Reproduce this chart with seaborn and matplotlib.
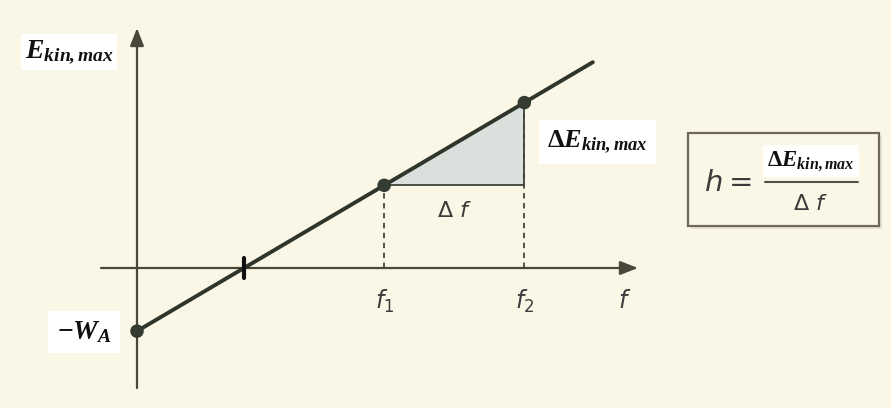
import matplotlib
matplotlib.use("Agg")
import matplotlib.pyplot as plt
import seaborn as sns
import numpy as np
import pandas as pd
from matplotlib.patches import Polygon, Rectangle

sns.set_theme(style="white")
plt.rcParams["font.family"] = ["Liberation Sans", "DejaVu Sans"]
plt.rcParams["mathtext.fontset"] = "custom"
plt.rcParams["mathtext.rm"] = "Liberation Serif"
plt.rcParams["mathtext.it"] = "Liberation Serif:italic"
plt.rcParams["mathtext.bf"] = "Liberation Serif:bold"
plt.rcParams["mathtext.bfit"] = "Liberation Serif:bold:italic"

# photoelectric effect: E_kin,max = h * (f - f_G)
h_slope = 0.59          # slope of the line (Planck constant, arbitrary units)
f_threshold = 1.0       # threshold frequency (zero crossing)
f_marks = [2.31, 3.62]  # f1, f2
f_end = 4.26            # right end of the drawn line
tick_labels = ["$f_1$", "$f_2$"]

W_A = h_slope * f_threshold
f_line = [0.0, f_end]
E_line = [h_slope * f - W_A for f in f_line]
E_marks = [h_slope * f - W_A for f in f_marks]

BG = "#faf7e6"
AXIS_C = "#4b463a"
LINE_C = "#2f352b"
TEXT_C = "#3c3c3c"

fig = plt.figure(figsize=(8.91, 4.08), dpi=100, facecolor=BG)
ax = fig.add_axes([0, 0, 1, 1])
ax.set_facecolor(BG)
px = 107.0  # pixels per data unit
ax.set_xlim(-137 / px, (891 - 137) / px)
ax.set_ylim(-(408 - 268) / px, 268 / px)
ax.axis("off")

# axes with arrow heads
ax.annotate("", xy=(0, 240 / px), xytext=(0, -120 / px),
            arrowprops=dict(arrowstyle="-|>,head_length=0.9,head_width=0.35",
                            color=AXIS_C, lw=1.6, shrinkA=0, shrinkB=0))
ax.annotate("", xy=(501 / px, 0), xytext=(-36 / px, 0),
            arrowprops=dict(arrowstyle="-|>,head_length=0.9,head_width=0.35",
                            color=AXIS_C, lw=1.6, shrinkA=0, shrinkB=0))

# slope triangle
tri = Polygon([[f_marks[0], E_marks[0]], [f_marks[1], E_marks[0]],
               [f_marks[1], E_marks[1]]], closed=True,
              facecolor="#dae1dc", edgecolor="none", zorder=2)
ax.add_patch(tri)
ax.plot([f_marks[0], f_marks[1]], [E_marks[0], E_marks[0]], color="#3e443c", lw=1.3, zorder=3)
ax.plot([f_marks[1], f_marks[1]], [E_marks[0], E_marks[1]], color="#3e443c", lw=1.3, zorder=3)

# dashed drop lines to the f axis
for f, e in zip(f_marks, E_marks):
    ax.plot([f, f], [0, e], color="#45453c", lw=1.3, ls=(0, (3, 2.5)), zorder=2)

# the straight line and its marked points
df = pd.DataFrame({"f": f_line, "E": E_line})
sns.lineplot(data=df, x="f", y="E", ax=ax, color=LINE_C, lw=2.8, zorder=4)
pts = pd.DataFrame({"f": [0.0] + f_marks, "E": [-W_A] + E_marks})
sns.scatterplot(data=pts, x="f", y="E", ax=ax, color="#343b31", s=95,
                edgecolor="none", zorder=5)

# threshold tick on the f axis
ax.plot([f_threshold, f_threshold], [-10 / px, 10 / px], color="#111111", lw=3, zorder=5)

# tick labels
for f, lab in zip(f_marks, tick_labels):
    ax.text(f, -33 / px, lab, ha="center", va="center", fontsize=17,
            color=TEXT_C, math_fontfamily="dejavusans")
ax.text(488 / px, -33 / px, "$f$", ha="center", va="center", fontsize=17,
        color=TEXT_C, math_fontfamily="dejavusans")
ax.text((f_marks[0] + f_marks[1]) / 2, E_marks[0] - 26 / px, r"$\Delta\ f$",
        ha="center", va="center", fontsize=16, color=TEXT_C,
        math_fontfamily="dejavusans")

white_box = dict(boxstyle="square,pad=0.15", facecolor="white", edgecolor="none")

ax.text(-68 / px, 216 / px, r"$\mathbfit{E}_{\mathbfit{kin,max}}$",
        ha="center", va="center", fontsize=20, color="#111111", bbox=white_box)
ax.text(-53 / px, -64 / px, r"$\mathbf{-}\mathbfit{W}_{\mathbfit{A}}$",
        ha="center", va="center", fontsize=20, color="#111111",
        bbox=dict(boxstyle="square,pad=0.3", facecolor="white", edgecolor="none"))
ax.text(f_marks[1] + 73 / px, (E_marks[0] + E_marks[1]) / 2 + 2 / px,
        r"$\mathbf{\Delta}\mathbfit{E}_{\mathbfit{kin,max}}$",
        ha="center", va="center", fontsize=19, color="#111111",
        bbox=dict(boxstyle="square,pad=0.3", facecolor="white", edgecolor="none"))

# formula box
bx0, bx1 = (688 - 137) / px, (879 - 137) / px
by0, by1 = (268 - 226) / px, (268 - 133) / px
ax.add_patch(Rectangle((bx0 + 3 / px, by0 - 3 / px), bx1 - bx0, by1 - by0,
                       facecolor="#e6e2d2", edgecolor="none", zorder=1))
ax.add_patch(Rectangle((bx0, by0), bx1 - bx0, by1 - by0,
                       facecolor=BG, edgecolor="#6e685c", lw=1.6, zorder=2))
ax.text((728 - 137) / px, (268 - 183) / px, "$h =$", ha="center", va="center",
        fontsize=21, color=TEXT_C, math_fontfamily="dejavusans")
ax.plot([(765 - 137) / px, (858 - 137) / px], [(268 - 182) / px] * 2,
        color="#555049", lw=1.5, zorder=3)
ax.text((811 - 137) / px, (268 - 161) / px,
        r"$\mathbf{\Delta}\mathbfit{E}_{\mathbfit{kin,max}}$",
        ha="center", va="center", fontsize=16.5, color="#111111",
        bbox=dict(boxstyle="square,pad=0.2", facecolor="white", edgecolor="none"))
ax.text((811 - 137) / px, (268 - 205) / px, r"$\Delta\ f$", ha="center",
        va="center", fontsize=16, color=TEXT_C, math_fontfamily="dejavusans")

fig.savefig("out.png", dpi=100, facecolor=BG)
